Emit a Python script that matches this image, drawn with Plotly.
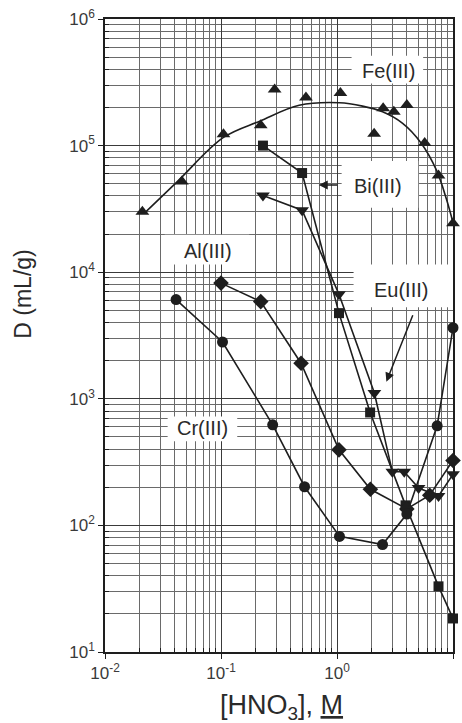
import plotly.graph_objects as go

# ---- data ----
fe_x = [0.021, 0.046, 0.105, 0.22, 0.29, 0.54, 1.07, 2.09, 2.5, 3.09, 4.0, 5.7, 7.5, 10.0]
fe_y = [3.0e4, 5.2e4, 1.23e5, 1.45e5, 2.77e5, 2.4e5, 2.6e5, 1.24e5, 1.97e5, 1.85e5, 2.09e5, 1.05e5, 5.8e4, 2.44e4]

fe_fit_x = [0.022, 0.042, 0.105, 0.216, 0.472, 1.05, 1.66, 2.47, 3.68, 5.3, 7.2, 8.8, 10.0]
fe_fit_y = [2.94e4, 5.2e4, 1.16e5, 1.56e5, 2.08e5, 2.18e5, 2.05e5, 1.85e5, 1.50e5, 1.05e5, 6.4e4, 3.75e4, 2.46e4]

bi_x = [0.23, 0.50, 1.04, 1.93, 3.9, 7.5, 10.0]
bi_y = [1.0e5, 6.07e4, 4.75e3, 780, 144, 33, 18.4]

eu_x = [0.23, 0.50, 1.04, 2.1, 3.0, 3.8, 5.05, 7.5, 10.0]
eu_y = [4.03e4, 3.09e4, 6.7e3, 1110, 265, 265, 197, 171, 253]

al_x = [0.10, 0.22, 0.49, 1.04, 1.94, 4.0, 6.3, 10.0]
al_y = [8.2e3, 5.86e3, 1.91e3, 395, 193, 135, 173, 326]

cr_x = [0.041, 0.103, 0.279, 0.525, 1.05, 2.47, 4.0, 7.3, 10.0]
cr_y = [6.08e3, 2.81e3, 623, 202, 81.9, 70.5, 123, 612, 3.64e3]

x_tick_vals = [0.01, 0.1, 1, 10]
x_tick_text = ["10<sup>-2</sup>", "10<sup>-1</sup>", "10<sup>0</sup>", "10<sup>1</sup>"]
y_tick_vals = [10, 100, 1000, 1e4, 1e5, 1e6]
y_tick_text = ["10<sup>1</sup>", "10<sup>2</sup>", "10<sup>3</sup>", "10<sup>4</sup>", "10<sup>5</sup>", "10<sup>6</sup>"]

labels = ["Fe(III)", "Bi(III)", "Al(III)", "Eu(III)", "Cr(III)"]

INK = "#1e1e1e"
GRID = "#6a6a6a"
FONT = "Liberation Sans, Arial, sans-serif"

fig = go.Figure()

fig.add_trace(go.Scatter(x=fe_fit_x, y=fe_fit_y, mode="lines", line=dict(color=INK, width=1.6, shape="spline"),
                         cliponaxis=False, showlegend=False, hoverinfo="skip"))
fig.add_trace(go.Scatter(x=fe_x, y=fe_y, mode="markers", marker=dict(symbol="triangle-up", size=12, color=INK),
                         cliponaxis=False, showlegend=False))
fig.add_trace(go.Scatter(x=bi_x, y=bi_y, mode="lines+markers", line=dict(color=INK, width=1.6),
                         marker=dict(symbol="square", size=10, color=INK), cliponaxis=False, showlegend=False))
fig.add_trace(go.Scatter(x=eu_x, y=eu_y, mode="lines+markers", line=dict(color=INK, width=1.6),
                         marker=dict(symbol="triangle-down", size=12, color=INK), cliponaxis=False, showlegend=False))
fig.add_trace(go.Scatter(x=al_x, y=al_y, mode="lines+markers", line=dict(color=INK, width=1.6),
                         marker=dict(symbol="diamond", size=12, color=INK), cliponaxis=False, showlegend=False))
fig.add_trace(go.Scatter(x=cr_x, y=cr_y, mode="lines+markers", line=dict(color=INK, width=1.6),
                         marker=dict(symbol="circle", size=11, color=INK), cliponaxis=False, showlegend=False))

# plot area in pixels: x 105..455, y 15..652
L, R, T, B = 105, 455, 15, 652
def px(x):
    return (x - L) / (R - L)
def py(y):
    return (B - y) / (B - T)

# white label boxes (cover the grid; no data passes through them)
boxes = [(353, 425, 52, 80), (343, 420, 158, 205), (165, 250, 232, 262), (355, 455, 262, 305), (168, 238, 415, 440)]
shapes = []
for x0, x1, y0, y1 in boxes:
    shapes.append(dict(type="rect", xref="paper", yref="paper", x0=px(x0), x1=px(x1), y0=py(y1), y1=py(y0),
                       fillcolor="white", line=dict(width=0), layer="above"))

label_pos = [(390, 67), (380, 183), (209, 248), (403, 288), (203, 427)]
annotations = []
for t, (x, y) in zip(labels, label_pos):
    annotations.append(dict(text=t, x=px(x), y=py(y), xref="paper", yref="paper", showarrow=False,
                            xanchor="center", yanchor="middle",
                            font=dict(size=20, color="#2a2a2a", family=FONT)))
# arrows
annotations.append(dict(text="", x=px(320), y=py(182), xref="paper", yref="paper", showarrow=True,
                        ax=20, ay=0, arrowhead=2, arrowsize=1.2, arrowwidth=1.5, arrowcolor=INK))
annotations.append(dict(text="", x=px(388), y=py(380), xref="paper", yref="paper", showarrow=True,
                        ax=27, ay=-68, arrowhead=2, arrowsize=1.2, arrowwidth=1.5, arrowcolor=INK))
# axis titles
annotations.append(dict(text="D (mL/g)", x=px(23), y=py(292), xref="paper", yref="paper", showarrow=False,
                        xanchor="center", yanchor="middle", textangle=-90,
                        font=dict(size=23, color="#2a2a2a", family=FONT)))
annotations.append(dict(text="[HNO<sub>3</sub>], <span style='text-decoration:underline'>M</span>",
                        x=px(283), y=py(707), xref="paper", yref="paper", showarrow=False,
                        xanchor="center", yanchor="middle",
                        font=dict(size=27, color="#2a2a2a", family=FONT)))

minor_x = [k * 10 ** e for e in range(-2, 1) for k in range(2, 10)]
minor_y = [k * 10 ** e for e in range(1, 6) for k in range(2, 10)]

axis_common = dict(type="log", showline=True, linecolor=INK, linewidth=1.5, mirror=True,
                   showgrid=True, gridcolor="#3a3a3a", gridwidth=1.4, zeroline=False,
                   ticks="outside", ticklen=5, tickcolor=INK,
                   tickfont=dict(size=17, color="#3a3a3a", family=FONT))

fig.update_xaxes(range=[-2, 1], tickmode="array", tickvals=x_tick_vals, ticktext=x_tick_text,
                 minor=dict(tickmode="array", tickvals=minor_x, showgrid=True, gridcolor=GRID, gridwidth=1,
                            ticks="inside", ticklen=4, tickcolor=INK),
                 **axis_common)
fig.update_yaxes(range=[1, 6], tickmode="array", tickvals=y_tick_vals, ticktext=y_tick_text,
                 minor=dict(tickmode="array", tickvals=minor_y, showgrid=True, gridcolor=GRID, gridwidth=1,
                            ticks="inside", ticklen=4, tickcolor=INK),
                 **axis_common)

fig.update_layout(width=462, height=723, margin=dict(l=L, r=462 - R, t=T, b=723 - B),
                  paper_bgcolor="white", plot_bgcolor="white", showlegend=False,
                  shapes=shapes, annotations=annotations)

fig.write_html("out.html")
